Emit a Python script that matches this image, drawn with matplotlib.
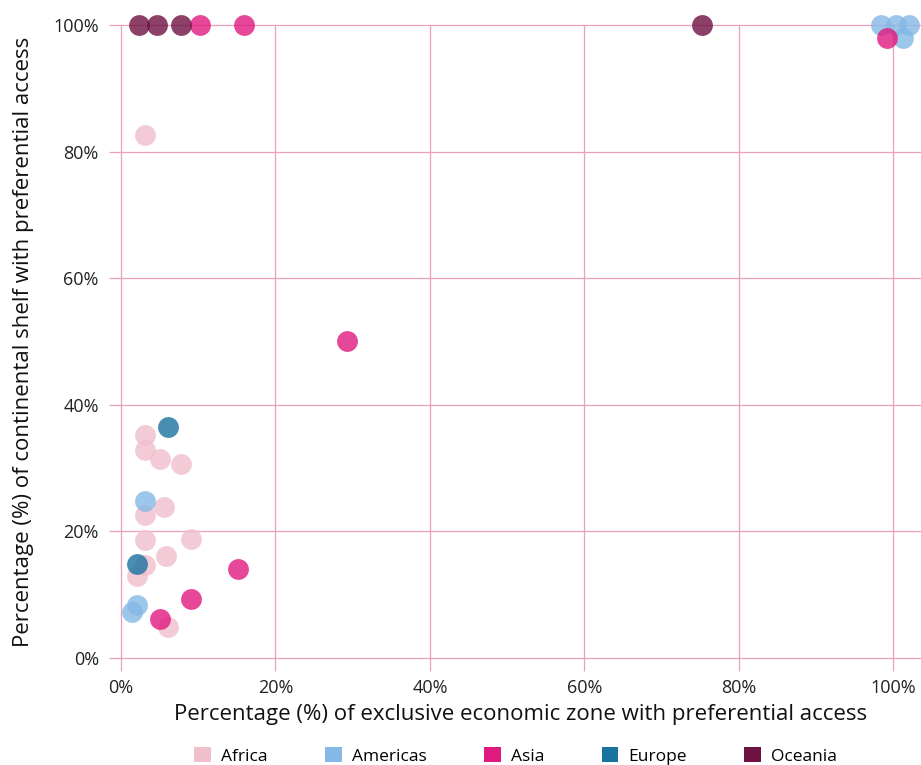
import matplotlib.pyplot as plt
import matplotlib.ticker as ticker
from matplotlib.patches import Patch

plt.rcParams['font.family'] = ['Open Sans', 'DejaVu Sans']

# Percentages (x = EEZ, y = continental shelf)
africa_x = [3.1, 3.1, 3.1, 5.1, 7.8, 5.6, 3.1, 3.1, 9.1, 5.8, 3.1, 2.1, 6.1]
africa_y = [82.6, 35.2, 32.9, 31.4, 30.6, 23.9, 22.6, 18.6, 18.8, 16.1, 14.7, 13.0, 4.9]

americas_x = [98.4, 100.3, 102.1, 101.3, 3.1, 2.1, 1.4]
americas_y = [100.0, 100.0, 100.0, 98.0, 24.8, 8.3, 7.2]

asia_x = [10.2, 15.9, 29.3, 15.2, 9.1, 5.0, 99.2]
asia_y = [100.0, 100.0, 50.1, 14.0, 9.3, 6.1, 98.0]

europe_x = [6.1, 2.1]
europe_y = [36.5, 14.8]

oceania_x = [2.3, 4.7, 7.8, 75.3]
oceania_y = [100.0, 100.0, 100.0, 100.0]

regions = ['Africa', 'Americas', 'Asia', 'Europe', 'Oceania']
colors = ['#f0bfcc', '#85b8e6', '#e0197f', '#1a72a0', '#6f1242']
series = [(africa_x, africa_y), (americas_x, americas_y), (asia_x, asia_y),
          (europe_x, europe_y), (oceania_x, oceania_y)]

grid_color = '#ee9fbb'

fig = plt.figure(figsize=(9.21, 7.65), dpi=100)
ax = fig.add_axes([0.1314, 0.1399, 0.8686, 0.8275])

for (xs, ys), c in zip(series, colors):
    ax.scatter(xs, ys, s=225, color=c, alpha=0.8, linewidths=0, clip_on=False, zorder=3)

ax.set_xlim(0, 103.6)
ax.set_ylim(0, 100)
ax.set_xticks([0, 20, 40, 60, 80, 100])
ax.set_yticks([0, 20, 40, 60, 80, 100])
ax.xaxis.set_major_formatter(ticker.FuncFormatter(lambda v, p: f'{v:.0f}%'))
ax.yaxis.set_major_formatter(ticker.FuncFormatter(lambda v, p: f'{v:.0f}%'))

ax.grid(True, color=grid_color, linewidth=0.9, zorder=0)
for line in ax.get_xgridlines() + ax.get_ygridlines():
    line.set_clip_on(False)
for s in ax.spines.values():
    s.set_visible(False)
ax.tick_params(axis='both', colors=grid_color, length=9, width=0.9, labelsize=13,
               labelcolor='#222222')
ax.tick_params(axis='y', pad=7)
ax.tick_params(axis='x', pad=6)

ax.set_xlabel('Percentage (%) of exclusive economic zone with preferential access',
              fontsize=16, color='#111111', labelpad=5)
ax.set_ylabel('Percentage (%) of continental shelf with preferential access',
              fontsize=16, color='#111111', labelpad=14)

handles = [Patch(facecolor=c, edgecolor='none', label=r) for r, c in zip(regions, colors)]
fig.legend(handles=handles, loc='lower center', bbox_to_anchor=(0.56, -0.02), ncol=5,
           frameon=False, fontsize=12.5, handlelength=0.95, handleheight=0.95,
           columnspacing=3.3, handletextpad=0.6)

fig.savefig('out.png', dpi=100)
plt.close(fig)
